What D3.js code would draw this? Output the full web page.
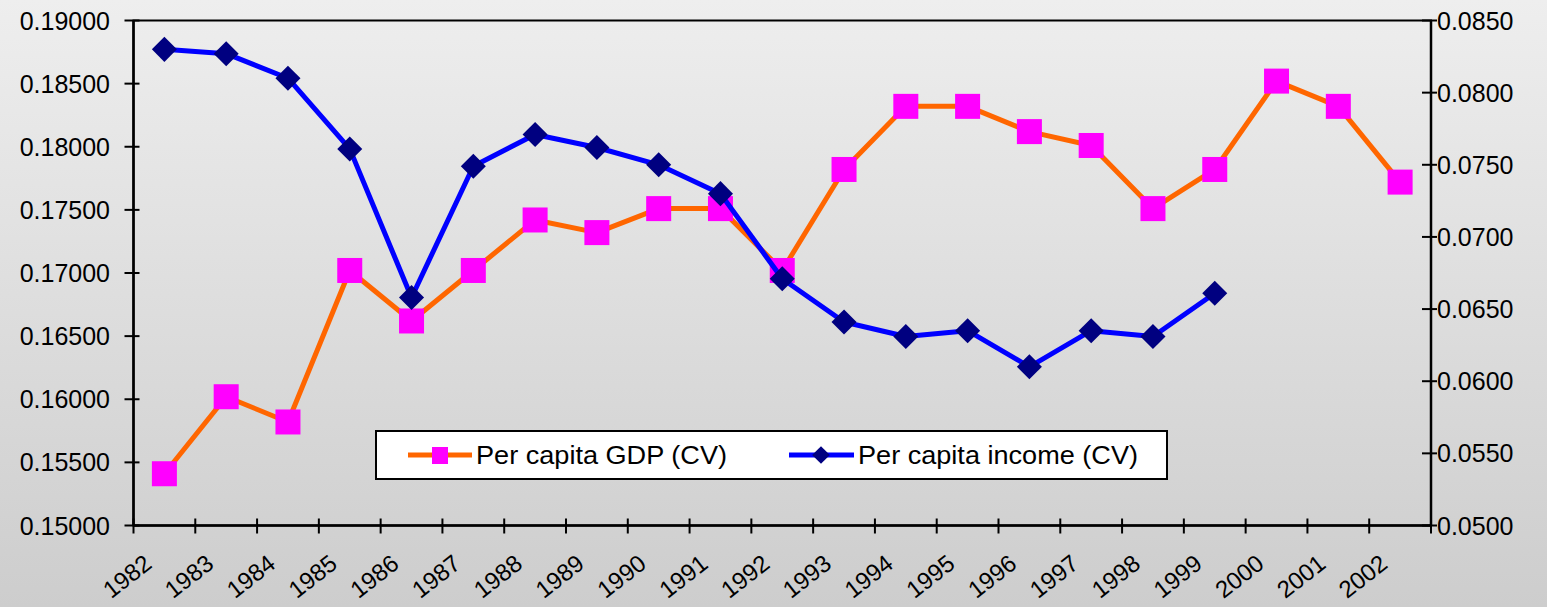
<!DOCTYPE html>
<html>
<head>
<meta charset="utf-8">
<script src="https://cdn.jsdelivr.net/npm/d3@7"></script>
<style>
  html, body { margin: 0; padding: 0; }
  body { width: 1547px; height: 607px; overflow: hidden; }
  text { font-family: "Liberation Sans", Arial, sans-serif; fill: #000; }
</style>
</head>
<body>
<div id="chart"></div>
<script>
// data
let years = ["1982","1983","1984","1985","1986","1987","1988","1989","1990","1991","1992",
  "1993","1994","1995","1996","1997","1998","1999","2000","2001","2002"]
let gdpCV = [0.1541,0.1602,0.1582,0.1702,0.1662,0.1702,0.1742,0.1732,0.1751,0.1751,0.1702,
  0.1782,0.1832,0.1832,0.1812,0.1801,0.1751,0.1782,0.1852,0.1832,0.1772]
let incomeCV = [0.0830,0.0827,0.0810,0.0761,0.0658,0.0749,0.0771,0.0762,0.0750,0.0730,0.0671,
  0.0641,0.0631,0.0635,0.0610,0.0635,0.0631,0.0661]
let leftTicks = [0.150,0.155,0.160,0.165,0.170,0.175,0.180,0.185,0.190]
let rightTicks = [0.050,0.055,0.060,0.065,0.070,0.075,0.080,0.085]
let seriesNames = ["Per capita GDP (CV)","Per capita income (CV)"]

const W = 1547, H = 607
const plot = {left:133.5, right:1431, top:20.5, bottom:525.5}

var svg = d3.select("#chart").append("svg")
  .attr("width", W).attr("height", H)

// grey background gradient
var grad = svg.append("defs").append("linearGradient")
  .attr("id","bg").attr("x1",0).attr("y1",0).attr("x2",0).attr("y2",1)
grad.append("stop").attr("offset","0%").attr("stop-color","#eeeeee")
grad.append("stop").attr("offset","100%").attr("stop-color","#cdcdcd")
svg.append("rect").attr("width",W).attr("height",H).attr("fill","url(#bg)")

var x = d3.scaleBand().domain(years).range([plot.left, plot.right]).padding(0)
var yL = d3.scaleLinear().domain([0.15,0.19]).range([plot.bottom, plot.top])
var yR = d3.scaleLinear().domain([0.05,0.085]).range([plot.bottom, plot.top])
var cx = d => x(d) + x.bandwidth()/2

// plot border (top line shows)
svg.append("rect")
  .attr("x",plot.left).attr("y",plot.top)
  .attr("width",plot.right-plot.left).attr("height",plot.bottom-plot.top)
  .attr("fill","none").attr("stroke","#000").attr("stroke-width",2)

// left axis
var axL = svg.append("g")
axL.append("line").attr("x1",plot.left).attr("x2",plot.left)
  .attr("y1",plot.top).attr("y2",plot.bottom).attr("stroke","#000").attr("stroke-width",2.5)
axL.selectAll(".tk").data(leftTicks).enter().append("line")
  .attr("x1",plot.left-9).attr("x2",plot.left+6)
  .attr("y1",d=>yL(d)).attr("y2",d=>yL(d)).attr("stroke","#000").attr("stroke-width",2)
axL.selectAll("text").data(leftTicks).enter().append("text")
  .attr("x",110).attr("y",d=>yL(d)).attr("dy","0.36em")
  .attr("text-anchor","end").style("font-size","25px")
  .text(d=>d3.format(".5f")(d))

// right axis
var axR = svg.append("g")
axR.append("line").attr("x1",plot.right).attr("x2",plot.right)
  .attr("y1",plot.top).attr("y2",plot.bottom).attr("stroke","#000").attr("stroke-width",2.5)
axR.selectAll(".tk").data(rightTicks).enter().append("line")
  .attr("x1",plot.right-9).attr("x2",plot.right+6)
  .attr("y1",d=>yR(d)).attr("y2",d=>yR(d)).attr("stroke","#000").attr("stroke-width",2)
axR.selectAll("text").data(rightTicks).enter().append("text")
  .attr("x",1437).attr("y",d=>yR(d)).attr("dy","0.36em")
  .attr("text-anchor","start").style("font-size","25px")
  .text(d=>d3.format(".4f")(d))

// bottom axis, ticks between categories
var axB = svg.append("g")
axB.append("line").attr("x1",plot.left).attr("x2",plot.right)
  .attr("y1",plot.bottom).attr("y2",plot.bottom).attr("stroke","#000").attr("stroke-width",2.5)
let bounds = years.map(d => x(d)).concat([plot.right])
axB.selectAll(".tk").data(bounds).enter().append("line")
  .attr("x1",d=>d).attr("x2",d=>d)
  .attr("y1",plot.bottom-7).attr("y2",plot.bottom+8).attr("stroke","#000").attr("stroke-width",2)
axB.selectAll("text").data(years).enter().append("text")
  .attr("transform", d => "translate(" + (cx(d)-11) + "," + (plot.bottom+41) + ") rotate(-38)")
  .attr("text-anchor","end").style("font-size","24px")
  .text(d=>d)

// lines
var lineL = d3.line().x((d,i)=>cx(years[i])).y(d=>yL(d))
var lineR = d3.line().x((d,i)=>cx(years[i])).y(d=>yR(d))

svg.append("path").datum(gdpCV).attr("d",lineL)
  .attr("fill","none").attr("stroke","#ff6600").attr("stroke-width",5).attr("stroke-linejoin","round")
svg.selectAll(".sq").data(gdpCV).enter().append("rect")
  .attr("x",(d,i)=>cx(years[i])-12.5).attr("y",d=>yL(d)-12.5)
  .attr("width",25).attr("height",25).attr("fill","#ff00ff")

svg.append("path").datum(incomeCV).attr("d",lineR)
  .attr("fill","none").attr("stroke","#0000ff").attr("stroke-width",5).attr("stroke-linejoin","round")
var diamond = d3.symbol().type(d3.symbolDiamond2).size(400)
svg.selectAll(".dm").data(incomeCV).enter().append("path")
  .attr("d",diamond)
  .attr("transform",(d,i)=>"translate(" + cx(years[i]) + "," + yR(d) + ")")
  .attr("fill","#000080")

// legend
var lg = svg.append("g")
lg.append("rect").attr("x",376).attr("y",431).attr("width",791).attr("height",48)
  .attr("fill","#fff").attr("stroke","#000").attr("stroke-width",2)
lg.append("line").attr("x1",408).attr("x2",472).attr("y1",455).attr("y2",455)
  .attr("stroke","#ff6600").attr("stroke-width",5)
lg.append("rect").attr("x",432).attr("y",447).attr("width",16).attr("height",17).attr("fill","#ff00ff")
lg.append("text").attr("x",476).attr("y",455).attr("dy","0.36em").style("font-size","25px")
  .attr("textLength",251).attr("lengthAdjust","spacingAndGlyphs").text(seriesNames[0])
lg.append("line").attr("x1",789).attr("x2",854).attr("y1",455).attr("y2",455)
  .attr("stroke","#0000ff").attr("stroke-width",5)
lg.append("path").attr("d",d3.symbol().type(d3.symbolDiamond2).size(200))
  .attr("transform","translate(821,455)").attr("fill","#000080")
lg.append("text").attr("x",858).attr("y",455).attr("dy","0.36em").style("font-size","25px")
  .attr("textLength",280).attr("lengthAdjust","spacingAndGlyphs").text(seriesNames[1])
</script>
</body>
</html>
